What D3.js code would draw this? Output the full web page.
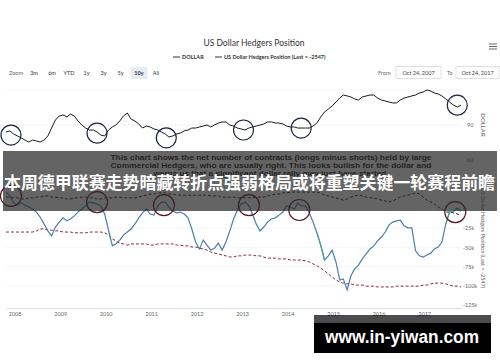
<!DOCTYPE html>
<html>
<head>
<meta charset="utf-8">
<script src="https://cdn.jsdelivr.net/npm/d3@7"></script>
<style>
body { margin: 0; background: #fff; }
svg { display: block; font-family: "Lato", "Open Sans", sans-serif; }
</style>
</head>
<body>
<div class="chart"></div>
<script>
/* US Dollar Hedgers Position */

//Monthly series from Oct 24, 2007 to Oct 24, 2017
var startDate = "2007-10-24";
var endDate = "2017-10-24";

var dollar = [
    84.0, 84.9, 82.3, 80.6, 78.9, 77.1, 75.4, 77.1, 76.3, 75.4,
    77.1, 80.6, 87.4, 94.3, 97.7, 98.6, 96.9, 99.4, 97.7, 93.4,
    90.0, 87.4, 85.7, 85.7, 84.0, 81.4, 80.6, 85.7, 88.3, 90.0,
    93.4, 97.7, 100.3, 95.1, 93.4, 90.9, 87.4, 89.1, 88.3, 86.6,
    85.7, 84.0, 82.3, 79.7, 80.6, 82.3, 83.1, 84.9, 85.7, 87.4,
    87.4, 88.3, 89.1, 90.0, 88.3, 90.0, 91.7, 92.6, 92.6, 90.0,
    89.1, 87.4, 86.6, 85.7, 87.4, 88.3, 89.1, 90.0, 90.9, 92.6,
    92.6, 91.7, 91.7, 90.9, 89.1, 88.3, 88.3, 87.4, 87.4, 87.4,
    87.4, 89.1, 91.7, 96.9, 101.1, 103.7, 106.3, 109.7, 113.1, 115.7,
    114.9, 114.0, 112.3, 111.4, 114.0, 114.9, 115.7, 115.7, 113.1, 111.4,
    110.6, 109.7, 108.9, 108.9, 111.4, 113.1, 114.0, 114.9, 115.7, 117.4,
    118.3, 120.0, 119.1, 117.4, 116.6, 114.9, 112.3, 109.7, 107.1, 105.4,
    107.1
];

//Net hedgers position, thousands of contracts
var hedgers = [
    22, 17, 8, 5, 8, 5, 2.5, 0, -4, -10.5,
    -19.5, -28.5, -35, -23.5, -17, -11.5, -15.5, -13, -9, -4,
    0, 4, 9, 8, 6.5, 4, -6.5, -27.5, -48, -45.5,
    -40.5, -34, -30, -26, -19.5, -11.5, -5, 0, -6.5, -8,
    4, 9, 9, 2.5, -2.5, -5, -4, -6.5, -11.5, -26,
    -43, -52, -40.5, -47, -53.5, -51, -44.5, -53.5, -43, -28.5,
    -13, -1.5, 6.5, 9, 4, -6.5, -19.5, -28.5, -23.5, -17,
    -13, -11.5, -8, -4, 4, 2.5, 0, 8, 4, 4,
    -5, -17, -31, -47, -66.5, -61, -53.5, -69, -92.5, -91,
    -105.5, -87, -78, -73, -65, -58.5, -52, -48, -41.5, -36.5,
    -30, -21, -17, -15.5, -14.5, -22, -24.5, -24.5, -54.5, -61,
    -62.5, -60, -57.5, -52, -49.5, -43, -19.5, -4, -3, 1,
    -2.547
];

//Long average (red dashed)
var hedgersAvg = [
    -30, -30, -30, -30, -30, -30, -30, -30, -28.5, -26,
    -26, -27.5, -27.5, -28.5, -28.5, -30, -30, -30, -31, -31,
    -31, -31, -30, -30, -30, -30, -31, -34, -39, -41.5,
    -44.5, -45.5, -47, -45.5, -45.5, -45.5, -45.5, -45.5, -47, -47,
    -45.5, -45.5, -45.5, -45.5, -45.5, -47, -47, -48, -48, -49.5,
    -49.5, -51, -52, -53.5, -56, -57.5, -58.5, -60, -61, -62.5,
    -62.5, -61, -61, -60, -60, -60, -61, -61, -62.5, -64,
    -64, -64, -65, -65, -65, -66.5, -66.5, -66.5, -66.5, -67.5,
    -69, -71.5, -74, -77, -80.5, -84.5, -88.5, -92.5, -95, -96.5,
    -97.5, -97.5, -99, -99, -99, -100.5, -100.5, -100.5, -101.5, -101.5,
    -101.5, -101.5, -101.5, -100.5, -100.5, -100.5, -100.5, -100.5, -100.5, -100.5,
    -99, -99, -97.5, -96.5, -96.5, -96.5, -97.5, -99, -100.5, -100.5,
    -101.5
];

//Black dashed band line
var hedgersBand = [
    15.5, 15.5, 14.5, 14.5, 13, 13, 14.5, 14.5, 15.5, 15.5,
    17, 17, 15.5, 15.5, 14.5, 14.5, 13, 13, 14.5, 14.5,
    15.5, 15.5, 14.5, 14.5, 13, 13, 14.5, 14.5, 14.5, 15.5,
    15.5, 14.5, 14.5, 14.5, 14.5, 15.5, 17, 18, 19.5, 19.5,
    21, 21, 21, 19.5, 19.5, 18, 18, 18, 18, 18,
    18, 18, 18, 18, 17, 17, 17, 15.5, 15.5, 15.5,
    15.5, 14.5, 14.5, 14.5, 14.5, 14.5, 15.5, 15.5, 15.5, 17,
    18, 19.5, 19.5, 21, 21, 22, 22, 22, 22, 22,
    22, 22, 22, 21, 18, 17, 15.5, 14.5, 13, 11.5,
    13, 15.5, 17, 18, 17, 15.5, 14.5, 14.5, 13, 11.5,
    10.5, 9, 10.5, 13, 15.5, 17, 18, 19.5, 21, 19.5,
    15.5, 11.5, 9, 6.5, 2.5, 0, -4, -4, -5, -6.5,
    -8
];

//Index ranges drawn in green on the hedgers line
var highlightRanges = [[82, 84], [116, 120]];

var yearLabels = ["2008", "2009", "2010", "2011", "2012", "2013", "2014", "2015", "2016", "2017"];
var dollarTicks = [60, 90];
var dollarGrid = [60, 90, 120];
var hedgerTicks = [0, -25, -50, -75, -100, -125];

//Hand drawn circles (date, value)
var dollarCircles = [["2007-12-03", 81.4], ["2009-10-24", 83], ["2011-05-03", 79], ["2013-01-12", 85.7], ["2014-04-20", 87.4], ["2017-09-24", 107]];
var hedgerCircles = [["2007-12-03", 17], ["2009-10-24", 9], ["2011-04-14", 5], ["2013-02-24", 5], ["2014-04-05", -1.3], ["2017-09-08", -4]];

var zoomButtons = ["3m", "6m", "YTD", "1y", "3y", "5y", "10y", "All"];
var noteLines = [
    "This chart shows the net number of contracts (longs minus shorts) held by large",
    "Commercial Hedgers, who are usually right. This looks bullish for the dollar and",
    "warns us that a significant dollar rally may just have started."
];
var headline = "本周德甲联赛走势暗藏转折点强弱格局或将重塑关键一轮赛程前瞻";

document.addEventListener("DOMContentLoaded", function (event) {
    //Width and height
    var w = 500;
    var h = 362;

    var parse = d3.timeParse("%Y-%m-%d");
    var start = parse(startDate);
    var dates = dollar.map(function (d, i) { return d3.timeMonth.offset(start, i); });

    //Scales
    var x = d3.scaleTime()
        .domain([start, parse(endDate)])
        .range([6, 461]);
    var yTop = d3.scaleLinear()
        .domain([60, 90])
        .range([160, 125]);
    var yBot = d3.scaleLinear()
        .domain([0, -125])
        .range([209, 305]);

    var svg = d3.select(".chart")
        .append("svg")
        .attr("width", w)
        .attr("height", h);

    //Title and legend
    svg.append("text")
        .attr("x", 254).attr("y", 46)
        .attr("text-anchor", "middle")
        .attr("font-size", 8.5)
        .attr("fill", "#333")
        .text("US Dollar Hedgers Position");

    var legend = [["DOLLAR", 173, "#333"], ["US Dollar Hedgers Position (Last = -2547)", 215, "#333"]];
    legend.forEach(function (l) {
        svg.append("line")
            .attr("x1", l[1]).attr("x2", l[1] + 7)
            .attr("y1", 57).attr("y2", 57)
            .attr("stroke", l[2]).attr("stroke-width", 1);
        svg.append("text")
            .attr("x", l[1] + 9).attr("y", 59)
            .attr("font-size", 5.5).attr("font-weight", "bold")
            .attr("fill", "#333")
            .text(l[0]);
    });

    //Hamburger menu
    [44, 46.5, 49].forEach(function (yy) {
        svg.append("line")
            .attr("x1", 489).attr("x2", 497)
            .attr("y1", yy).attr("y2", yy)
            .attr("stroke", "#666").attr("stroke-width", 1);
    });

    //Range selector
    svg.append("text")
        .attr("x", 9).attr("y", 75)
        .attr("font-size", 5.5).attr("fill", "#666")
        .text("Zoom");
    var btnX = [34, 52, 69, 86.5, 103.5, 120.5, 139, 156];
    zoomButtons.forEach(function (b, i) {
        if (b === "10y") {
            svg.append("rect")
                .attr("x", btnX[i] - 8.5).attr("y", 67)
                .attr("width", 17).attr("height", 12)
                .attr("rx", 1.5)
                .attr("fill", "#e6ebf5");
        }
        svg.append("text")
            .attr("x", btnX[i]).attr("y", 75)
            .attr("text-anchor", "middle")
            .attr("font-size", 5.5)
            .attr("font-weight", b === "10y" ? "bold" : "normal")
            .attr("fill", "#333")
            .text(b);
    });

    var inputs = [["From", 378, 396, 45, "Oct 24, 2007"], ["To", 447, 456, 43, "Oct 24, 2017"]];
    inputs.forEach(function (p) {
        svg.append("text")
            .attr("x", p[1]).attr("y", 75)
            .attr("font-size", 5.5).attr("fill", "#666")
            .text(p[0]);
        svg.append("rect")
            .attr("x", p[2]).attr("y", 66.5)
            .attr("width", p[3]).attr("height", 12)
            .attr("fill", "#fff").attr("stroke", "#ccc").attr("stroke-width", 0.6);
        svg.append("text")
            .attr("x", p[2] + p[3] / 2).attr("y", 75)
            .attr("text-anchor", "middle")
            .attr("font-size", 5.5).attr("fill", "#444")
            .text(p[4]);
    });

    //Gridlines
    var grid = svg.append("g").attr("stroke", "#ededed").attr("stroke-width", 0.6);
    dollarGrid.forEach(function (v) {
        grid.append("line").attr("x1", 6).attr("x2", 461)
            .attr("y1", yTop(v)).attr("y2", yTop(v));
    });
    hedgerTicks.slice(1, 5).forEach(function (v) {
        grid.append("line").attr("x1", 6).attr("x2", 461)
            .attr("y1", yBot(v)).attr("y2", yBot(v));
    });

    //Line generators
    var lineTop = d3.line()
        .x(function (d, i) { return x(dates[i]); })
        .y(function (d) { return yTop(d); });
    var lineBot = d3.line()
        .x(function (d, i) { return x(dates[i]); })
        .y(function (d) { return yBot(d); });

    svg.append("path")
        .attr("d", lineTop(dollar))
        .attr("fill", "none").attr("stroke", "#1a1a1a").attr("stroke-width", 1);

    svg.append("path")
        .attr("d", lineBot(hedgersBand))
        .attr("fill", "none").attr("stroke", "#222").attr("stroke-width", 1)
        .attr("stroke-dasharray", "3,2");

    svg.append("path")
        .attr("d", lineBot(hedgersAvg))
        .attr("fill", "none").attr("stroke", "#8e2a3c").attr("stroke-width", 1)
        .attr("stroke-dasharray", "3,2");

    svg.append("path")
        .attr("d", lineBot(hedgers))
        .attr("fill", "none").attr("stroke", "#4a7db0").attr("stroke-width", 1.2);

    var lineSeg = d3.line()
        .x(function (d) { return x(dates[d]); })
        .y(function (d) { return yBot(hedgers[d]); });
    highlightRanges.forEach(function (r) {
        svg.append("path")
            .attr("d", lineSeg(d3.range(r[0], r[1] + 1)))
            .attr("fill", "none").attr("stroke", "#4aa68f").attr("stroke-width", 1.2);
    });

    //Circles
    svg.selectAll("circle.top")
        .data(dollarCircles)
        .enter()
        .append("circle")
        .attr("class", "top")
        .attr("cx", function (d) { return x(parse(d[0])); })
        .attr("cy", function (d) { return yTop(d[1]); })
        .attr("r", 10)
        .attr("fill", "none").attr("stroke", "#1c2440").attr("stroke-width", 1.2);

    svg.selectAll("circle.bot")
        .data(hedgerCircles)
        .enter()
        .append("circle")
        .attr("class", "bot")
        .attr("cx", function (d) { return x(parse(d[0])); })
        .attr("cy", function (d) { return yBot(d[1]); })
        .attr("r", 10.5)
        .attr("fill", "none").attr("stroke", "#5a1525").attr("stroke-width", 1.2);

    //Axes
    var xAxis = d3.axisBottom(x)
        .tickValues(yearLabels.map(function (y) { return parse(y + "-01-01"); }))
        .tickFormat(d3.timeFormat("%Y"))
        .tickSize(0)
        .tickPadding(4);
    var gx = svg.append("g")
        .attr("transform", "translate(0,308)")
        .call(xAxis);
    gx.select(".domain").attr("stroke", "#ccd6eb").attr("stroke-width", 0.8);
    gx.selectAll("text").attr("font-size", 5.5).attr("fill", "#666").attr("font-family", "Lato, sans-serif");

    var gTop = svg.append("g")
        .attr("transform", "translate(466,0)")
        .call(d3.axisRight(yTop).tickValues(dollarTicks).tickSize(0).tickPadding(1));
    var gBot = svg.append("g")
        .attr("transform", "translate(461,0)")
        .call(d3.axisRight(yBot).tickValues(hedgerTicks).tickSize(0).tickPadding(2)
            .tickFormat(function (d) { return d === 0 ? "0" : d + "k"; }));
    [gTop, gBot].forEach(function (g) {
        g.select(".domain").remove();
        g.selectAll("text").attr("font-size", 5.5).attr("fill", "#666").attr("font-family", "Lato, sans-serif");
    });

    svg.append("text")
        .attr("transform", "translate(481,125) rotate(90)")
        .attr("text-anchor", "middle")
        .attr("font-size", 6).attr("fill", "#666")
        .text("DOLLAR");
    svg.append("text")
        .attr("transform", "translate(481,238) rotate(90)")
        .attr("text-anchor", "middle")
        .attr("font-size", 5.5).attr("fill", "#666")
        .text("US Dollar Hedgers Position (Last = -2547)");

    //Chart note
    var noteY = [160, 168, 176];
    var noteLen = [321, 321, 235];
    noteLines.forEach(function (t, i) {
        svg.append("text")
            .attr("x", 271).attr("y", noteY[i])
            .attr("text-anchor", "middle")
            .attr("textLength", noteLen[i]).attr("lengthAdjust", "spacingAndGlyphs")
            .attr("font-family", "Liberation Sans, Arial, sans-serif")
            .attr("font-size", 8).attr("font-weight", "bold")
            .attr("fill", "#111")
            .text(t);
    });

    //Overlay band and headline
    svg.append("rect")
        .attr("x", 3).attr("y", 151)
        .attr("width", 494).attr("height", 60)
        .attr("fill", "#282828").attr("opacity", 0.72);

    svg.append("text")
        .attr("x", 4).attr("y", 189)
        .attr("textLength", 491).attr("lengthAdjust", "spacingAndGlyphs")
        .attr("font-family", "Noto Sans CJK SC, sans-serif")
        .attr("font-size", 17).attr("font-weight", "bold")
        .attr("fill", "#fff")
        .text(headline);

    //Site watermark
    svg.append("rect")
        .attr("x", 314).attr("y", 315)
        .attr("width", 177).attr("height", 8)
        .attr("fill", "#000").attr("opacity", 0.7);
    svg.append("rect")
        .attr("x", 314).attr("y", 323)
        .attr("width", 177).attr("height", 30)
        .attr("fill", "#000");
    svg.append("text")
        .attr("x", 325).attr("y", 343)
        .attr("textLength", 154).attr("lengthAdjust", "spacingAndGlyphs")
        .attr("font-family", "Liberation Sans, Arial, sans-serif")
        .attr("font-size", 18).attr("font-weight", "bold")
        .attr("fill", "#fff")
        .text("www.in-yiwan.com");
});
</script>
</body>
</html>
